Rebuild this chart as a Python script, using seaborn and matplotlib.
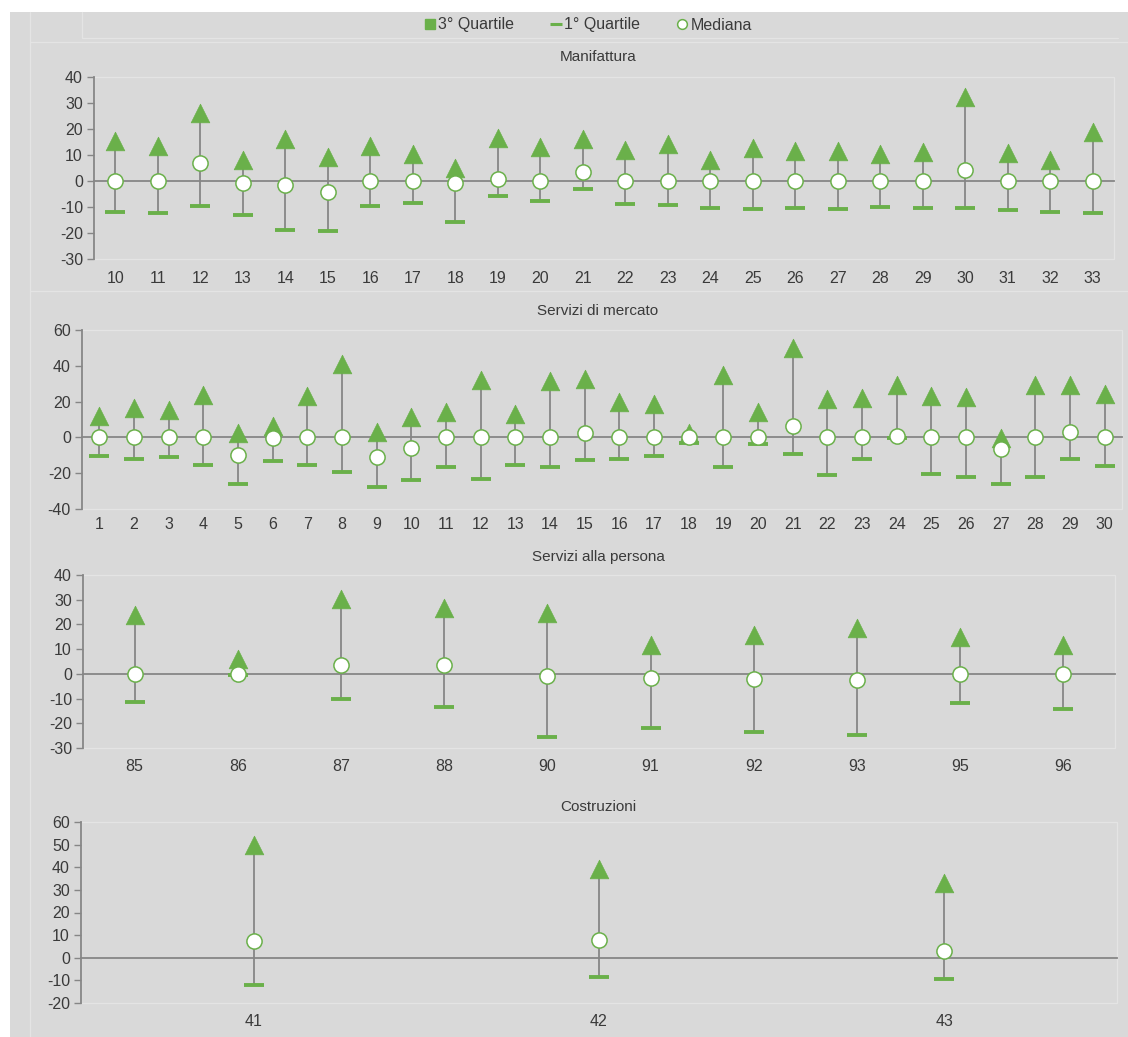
import matplotlib
matplotlib.use("Agg")
import matplotlib.pyplot as plt
from matplotlib.lines import Line2D
from matplotlib.patches import Rectangle
import numpy as np
import pandas as pd
import seaborn as sns

# ---- data -------------------------------------------------------------
man_codes = ["10", "11", "12", "13", "14", "15", "16", "17", "18", "19", "20", "21",
             "22", "23", "24", "25", "26", "27", "28", "29", "30", "31", "32", "33"]
man_q3 = [15.3, 13.4, 26.0, 8.0, 16.1, 9.1, 13.6, 10.3, 4.9, 16.7, 12.9, 16.1,
          12.0, 14.1, 8.1, 12.6, 11.6, 11.4, 10.4, 11.2, 32.3, 10.7, 8.0, 18.8]
man_q1 = [-11.8, -12.3, -9.6, -13.0, -18.8, -19.3, -9.5, -8.5, -15.9, -5.9, -7.5, -3.2,
          -8.7, -9.4, -10.2, -10.7, -10.4, -10.9, -10.0, -10.2, -10.5, -11.1, -12.0, -12.2]
man_med = [0.0, 0.0, 7.1, -0.8, -1.5, -4.4, 0.0, 0.0, -0.8, 0.8, 0.0, 3.6,
           0.0, 0.0, 0.0, 0.0, 0.0, 0.0, 0.0, 0.0, 4.4, 0.0, 0.0, 0.0]

srv_codes = [str(i) for i in range(1, 31)]
srv_q3 = [12.1, 16.3, 15.5, 23.9, 2.4, 6.5, 23.0, 41.1, 3.2, 11.6, 14.2, 32.1, 13.3, 31.6, 32.9,
          20.0, 18.9, 2.5, 35.1, 14.0, 49.7, 21.5, 22.2, 29.2, 23.4, 22.4, -0.6, 29.5, 29.3, 24.5]
srv_q1 = [-10.5, -12.0, -11.0, -15.5, -26.2, -13.1, -15.3, -19.1, -27.5, -23.7, -16.6, -23.2, -15.5, -16.3, -12.5,
          -12.1, -10.3, -3.0, -16.6, -3.6, -9.5, -21.1, -12.3, -0.5, -20.4, -22.1, -26.2, -22.2, -12.3, -16.1]
srv_med = [0.0, 0.0, 0.0, 0.0, -9.7, -0.4, 0.0, 0.0, -11.2, -6.0, 0.0, 0.0, 0.0, 0.0, 2.4,
           0.0, 0.0, 0.0, 0.0, 0.0, 6.2, 0.0, 0.0, 1.0, 0.0, 0.0, -6.7, 0.0, 2.8, 0.0]

pers_codes = ["85", "86", "87", "88", "90", "91", "92", "93", "95", "96"]
pers_q3 = [24.0, 6.2, 30.3, 26.6, 24.5, 11.6, 15.9, 18.4, 15.1, 11.8]
pers_q1 = [-11.2, -0.5, -10.2, -13.6, -25.4, -21.9, -23.7, -24.8, -11.8, -14.4]
pers_med = [0.0, 0.0, 3.5, 3.6, -0.9, -1.6, -2.2, -2.3, 0.1, 0.1]

cost_codes = ["41", "42", "43"]
cost_q3 = [50.0, 39.2, 33.0]
cost_q1 = [-11.9, -8.4, -9.3]
cost_med = [7.2, 7.8, 3.2]

# ---- style ------------------------------------------------------------
sns.set_theme(style="white")
plt.rcParams["font.family"] = ["Liberation Sans", "DejaVu Sans"]
plt.rcParams["axes.unicode_minus"] = False

W, H, DPI = 1128, 1037, 100
GREEN = "#6AB04A"
STEM = "#808080"
AXIS = "#868686"
TEXT = "#3A3A3A"
BG = "#D9D9D9"
EDGE = "#E4E4E4"

fig = plt.figure(figsize=(W / DPI, H / DPI), dpi=DPI, facecolor="white")
fig.patches.append(Rectangle((10 / W, 0), 1 - 10 / W, 1 - 12 / H, transform=fig.transFigure,
                             facecolor=BG, edgecolor="none", zorder=-10))


def fline(x0, y0, x1, y1):
    fig.add_artist(Line2D([x0 / W, x1 / W], [1 - y0 / H, 1 - y1 / H],
                          transform=fig.transFigure, color=EDGE, lw=0.9, zorder=-5))


fline(30, 12, 30, H)
fline(30, 42, W, 42)
fline(30, 291, W, 291)
fline(82, 38, W - 10, 38)
fline(82, 12, 82, 38)

panels = [
    # title, codes, q3, q1, med, ymin, ymax, step, (left, right, top, bottom), title_y, label_y
    ("Manifattura", man_codes, man_q3, man_q1, man_med, -30, 40, 10, (94, 1114, 77, 259), 57, 279),
    ("Servizi di mercato", srv_codes, srv_q3, srv_q1, srv_med, -40, 60, 20, (82, 1122, 330, 509), 311, 525),
    ("Servizi alla persona", pers_codes, pers_q3, pers_q1, pers_med, -30, 40, 10, (83, 1115, 575, 748), 557, 767),
    ("Costruzioni", cost_codes, cost_q3, cost_q1, cost_med, -20, 60, 10, (81, 1117, 822, 1003), 807, 1022),
]

for title, codes, q3, q1, med, ymin, ymax, step, (l, r, t, b), ty, ly in panels:
    ax = fig.add_axes([l / W, 1 - b / H, (r - l) / W, (b - t) / H])
    ax.set_facecolor("none")
    n = len(codes)
    df = pd.DataFrame({"pos": np.arange(n), "code": codes, "q3": q3, "q1": q1, "med": med})

    # high-low stems from 1st to 3rd quartile
    ax.vlines(df["pos"], df["q1"], df["q3"], color=STEM, lw=1.2, zorder=2)
    sns.scatterplot(data=df, x="pos", y="q1", marker="_", s=210, linewidth=2.8,
                    color=GREEN, ax=ax, zorder=3, legend=False)
    sns.scatterplot(data=df, x="pos", y="q3", marker="^", s=180, linewidth=0.5,
                    color=GREEN, edgecolor=GREEN, ax=ax, zorder=4, legend=False)
    sns.scatterplot(data=df, x="pos", y="med", marker="o", s=120, linewidth=1.1,
                    color="white", edgecolor=GREEN, ax=ax, zorder=5, legend=False)

    ax.set_xlim(-0.5, n - 0.5)
    ax.set_ylim(ymin, ymax)
    ax.set_xlabel("")
    ax.set_ylabel("")
    ax.set_yticks(np.arange(ymin, ymax + 1, step))
    ax.set_xticks(np.arange(-0.5, n, 1.0))
    ax.tick_params(axis="x", direction="out", length=4, width=1, color=AXIS, labelbottom=False)
    ax.tick_params(axis="y", direction="out", length=5, width=1, color=AXIS,
                   labelsize=11.5, labelcolor=TEXT, pad=3, left=True)
    for s in ("top", "right"):
        ax.spines[s].set_visible(False)
    ax.spines["left"].set_color(AXIS)
    ax.spines["left"].set_linewidth(1.3)
    ax.spines["bottom"].set_position(("data", 0))
    ax.spines["bottom"].set_color(AXIS)
    ax.spines["bottom"].set_linewidth(1.3)
    ax.add_patch(Rectangle((0, 0), 1, 1, transform=ax.transAxes, fill=False,
                           edgecolor=EDGE, lw=0.9, zorder=0, clip_on=False))

    sec = ax.secondary_xaxis("bottom")
    sec.set_xticks(np.arange(n), labels=codes)
    sec.tick_params(length=0, labelsize=11.5, labelcolor=TEXT, pad=(ly - b - 8) * 0.72)
    sec.spines["bottom"].set_visible(False)

    fig.text(598 / W, 1 - ty / H, title, ha="center", va="center", fontsize=11, color=TEXT)

handles = [
    Line2D([], [], ls="", marker="s", ms=7, color=GREEN),
    Line2D([], [], ls="", marker="_", ms=9, mew=2.2, color=GREEN),
    Line2D([], [], ls="", marker="o", ms=7, mfc="white", mec=GREEN, mew=1.1),
]
fig.legend(handles, ["3° Quartile", "1° Quartile", "Mediana"], loc="center",
           bbox_to_anchor=(588 / W, 1 - 25 / H), ncol=3, frameon=False, fontsize=11.5,
           handlelength=0.7, handletextpad=0.15, columnspacing=2.3, labelcolor=TEXT)

fig.savefig("out.png", dpi=DPI, facecolor="white")
